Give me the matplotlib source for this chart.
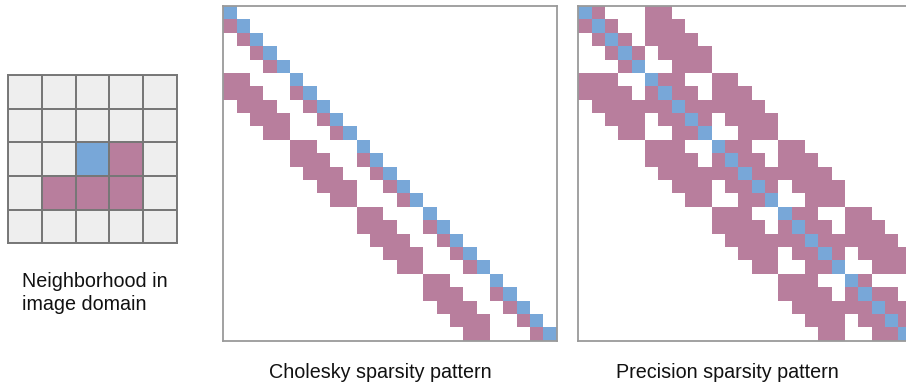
import matplotlib
matplotlib.use("Agg")
import matplotlib.pyplot as plt
import numpy as np
from matplotlib.colors import ListedColormap

# ---------------- data ----------------
grid_size = 5
center_cell = (2, 2)                       # (row, col) blue pixel
neighbor_cells = [(2, 3), (3, 1), (3, 2), (3, 3)]   # purple pixels

n = 25
# off-diagonal nonzero columns per row of the Cholesky factor (lower triangular)
cholesky_rows = [
    [], [0], [1], [2], [3],
    [0, 1], [0, 1, 2, 5], [1, 2, 3, 6], [2, 3, 4, 7], [3, 4, 8],
    [5, 6], [5, 6, 7, 10], [6, 7, 8, 11], [7, 8, 9, 12], [8, 9, 13],
    [10, 11], [10, 11, 12, 15], [11, 12, 13, 16], [12, 13, 14, 17], [13, 14, 18],
    [15, 16], [15, 16, 17, 20], [16, 17, 18, 21], [17, 18, 19, 22], [18, 19, 23],
]
# nonzero columns per row of the precision matrix (diagonal included)
precision_rows = [
    [0, 1, 5, 6],
    [0, 1, 2, 5, 6, 7],
    [1, 2, 3, 5, 6, 7, 8],
    [2, 3, 4, 6, 7, 8, 9],
    [3, 4, 7, 8, 9],
    [0, 1, 2, 5, 6, 7, 10, 11],
    [0, 1, 2, 3, 5, 6, 7, 8, 10, 11, 12],
    [1, 2, 3, 4, 5, 6, 7, 8, 9, 10, 11, 12, 13],
    [2, 3, 4, 6, 7, 8, 9, 11, 12, 13, 14],
    [3, 4, 7, 8, 9, 12, 13, 14],
    [5, 6, 7, 10, 11, 12, 15, 16],
    [5, 6, 7, 8, 10, 11, 12, 13, 15, 16, 17],
    [6, 7, 8, 9, 10, 11, 12, 13, 14, 15, 16, 17, 18],
    [7, 8, 9, 11, 12, 13, 14, 16, 17, 18, 19],
    [8, 9, 12, 13, 14, 17, 18, 19],
    [10, 11, 12, 15, 16, 17, 20, 21],
    [10, 11, 12, 13, 15, 16, 17, 18, 20, 21, 22],
    [11, 12, 13, 14, 15, 16, 17, 18, 19, 20, 21, 22, 23],
    [12, 13, 14, 16, 17, 18, 19, 21, 22, 23, 24],
    [13, 14, 17, 18, 19, 22, 23, 24],
    [15, 16, 17, 20, 21],
    [15, 16, 17, 18, 20, 21, 22, 23],
    [16, 17, 18, 19, 20, 21, 22, 23, 24],
    [17, 18, 19, 21, 22, 23, 24],
    [18, 19, 22, 23, 24],
]

left_label = ["Neighborhood in", "image domain"]
titles = ["Cholesky sparsity pattern", "Precision sparsity pattern"]

# ---------------- style ----------------
BLUE = "#78A7D8"
PURPLE = "#B87E9D"
LIGHT = "#EEEEEE"
FRAME = "#9A9A9A"
GRIDLINE = "#777777"
FONT = "Liberation Sans"

W, H = 906, 386
fig = plt.figure(figsize=(W / 100, H / 100), dpi=100)


def px_axes(x0, y0, x1, y1):
    return fig.add_axes([x0 / W, 1 - y1 / H, (x1 - x0) / W, (y1 - y0) / H])


# ---- neighborhood grid ----
axg = px_axes(8.3, 75.0, 176.7, 243.3)
g = np.zeros((grid_size, grid_size))
for (r, c) in neighbor_cells:
    g[r, c] = 1
g[center_cell] = 2
cmap_g = ListedColormap([LIGHT, PURPLE, BLUE])
axg.pcolormesh(np.arange(grid_size + 1), np.arange(grid_size + 1), g,
               cmap=cmap_g, vmin=0, vmax=2, edgecolors=GRIDLINE, linewidth=1.4)
axg.set_xlim(0, grid_size)
axg.set_ylim(grid_size, 0)
axg.set_xticks([])
axg.set_yticks([])
for s in axg.spines.values():
    s.set_edgecolor(GRIDLINE)
    s.set_linewidth(1.4)


def draw_matrix(ax, rows, include_diag):
    m = np.zeros((n, n))
    for i, cols in enumerate(rows):
        for j in cols:
            m[i, j] = 1
        m[i, i] = 2
    cmap = ListedColormap(["white", PURPLE, BLUE])
    ax.pcolormesh(np.arange(n + 1), np.arange(n + 1), m, cmap=cmap,
                  vmin=0, vmax=2)
    ax.set_xlim(0, n)
    ax.set_ylim(n, 0)
    ax.set_xticks([])
    ax.set_yticks([])
    for s in ax.spines.values():
        s.set_edgecolor(FRAME)
        s.set_linewidth(1.3)


ax1 = px_axes(223.3, 6.0, 556.7, 340.7)
draw_matrix(ax1, cholesky_rows, True)
ax2 = px_axes(578.3, 6.0, 911.7, 340.7)
draw_matrix(ax2, precision_rows, True)

fs = 14.2
fig.text(22 / W, 1 - 287 / H, left_label[0], fontsize=fs, family=FONT,
         ha="left", va="baseline", color="#111111")
fig.text(22 / W, 1 - 309.5 / H, left_label[1], fontsize=fs, family=FONT,
         ha="left", va="baseline", color="#111111")
fig.text(380.5 / W, 1 - 378 / H, titles[0], fontsize=fs, family=FONT,
         ha="center", va="baseline", color="#111111")
fig.text(727.5 / W, 1 - 378 / H, titles[1], fontsize=fs, family=FONT,
         ha="center", va="baseline", color="#111111")

fig.savefig("out.png", dpi=100)
